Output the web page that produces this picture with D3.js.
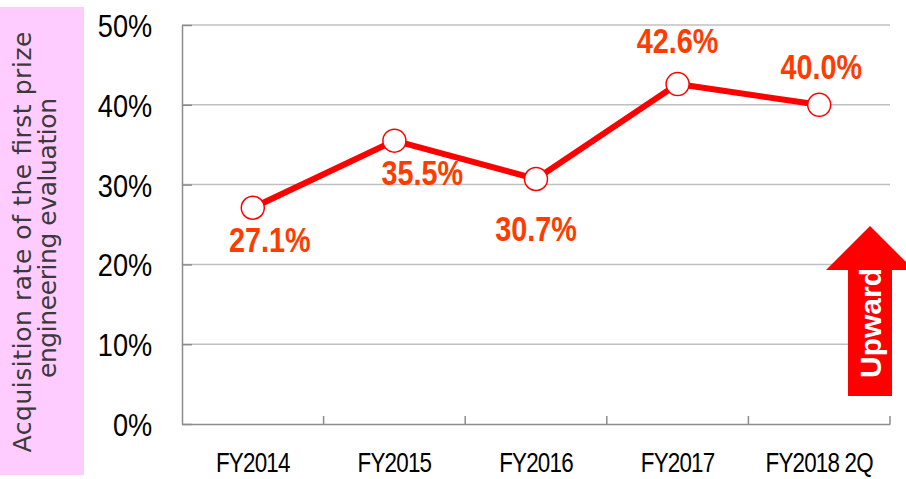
<!DOCTYPE html>
<html>
<head>
<meta charset="utf-8">
<script src="https://cdn.jsdelivr.net/npm/d3@7"></script>
<style>
  body { margin: 0; background: #fff; }
  svg { display: block; font-family: "Liberation Sans", Arial, sans-serif; }
</style>
</head>
<body>
<svg id="chart" width="906" height="479"></svg>
<script>
// data
const categories = ["FY2014", "FY2015", "FY2016", "FY2017", "FY2018 2Q"];
const rates = [0.271, 0.355, 0.307, 0.426, 0.400];
const yTicks = [0, 0.1, 0.2, 0.3, 0.4, 0.5];
const titleLines = ["Acquisition rate of the first prize", "engineering evaluation"];
// where each value label sits relative to its point
const labelOffsets = [[17, 31], [28, 31], [0, 49], [0, -44], [2, -39]];

const svg = d3.select("#chart");
const margin = {left: 182, right: 16, top: 25, bottom: 55};
const W = 906, H = 479;

const x = d3.scaleBand().domain(categories).range([margin.left, W - margin.right]);
const y = d3.scaleLinear().domain([0, 0.5]).range([H - margin.bottom, margin.top]);

// pink title box
svg.append("rect")
    .attr("x", 0).attr("y", 7)
    .attr("width", 84).attr("height", 468)
    .attr("fill", "#ffccff");

const title = svg.append("g")
    .attr("transform", "translate(42,241) rotate(-90)")
    .attr("fill", "#3a3a3a")
    .attr("font-family", "'DejaVu Sans', Verdana, sans-serif")
    .attr("font-size", 25)
    .attr("text-anchor", "middle");
title.selectAll("text")
    .data(titleLines)
    .enter().append("text")
    .attr("x", (d, i) => i ? 3 : -1)
    .attr("y", (d, i) => i ? 14 : -11)
    .attr("textLength", (d, i) => i ? 280 : 421)
    .attr("lengthAdjust", "spacing")
    .text(d => d);

// gridlines
svg.append("g")
    .selectAll("line")
    .data(yTicks.slice(1))
    .enter().append("line")
    .attr("x1", margin.left).attr("x2", W - margin.right)
    .attr("y1", d => y(d)).attr("y2", d => y(d))
    .attr("stroke", "#c0c0c0")
    .attr("stroke-width", 1.5);

// y axis
const yAxis = svg.append("g")
    .attr("transform", `translate(${margin.left},0)`)
    .call(d3.axisLeft(y).tickValues(yTicks).tickFormat(d3.format(".0%"))
        .tickSizeInner(-10).tickSizeOuter(0).tickPadding(0));
yAxis.select(".domain").attr("stroke", "#8c8c8c").attr("stroke-width", 1.5);
yAxis.selectAll(".tick line").attr("stroke", "#8c8c8c").attr("stroke-width", 1.5);
yAxis.selectAll(".tick text")
    .attr("x", -35)
    .attr("dy", "0.36em")
    .attr("font-size", 32)
    .attr("fill", "#000")
    .attr("transform", "scale(0.85,1)");

// x axis
const xAxis = svg.append("g")
    .attr("transform", `translate(0,${y(0)})`)
    .call(d3.axisBottom(x).tickSize(0).tickPadding(0));
xAxis.select(".domain").attr("stroke", "#8c8c8c").attr("stroke-width", 1.5);
xAxis.selectAll(".tick text")
    .attr("y", 48)
    .attr("dy", 0)
    .attr("font-size", 28)
    .attr("fill", "#000")
    .attr("letter-spacing", -1)
    .attr("transform", "scale(0.8,1)");

// tick marks at category boundaries
xAxis.append("g")
    .selectAll("line")
    .data(categories.slice(1).map(c => x(c)).concat([x.range()[1]]))
    .enter().append("line")
    .attr("x1", d => d).attr("x2", d => d)
    .attr("y1", 0).attr("y2", -8)
    .attr("stroke", "#8c8c8c")
    .attr("stroke-width", 1.5);

const cx = (d, i) => x(categories[i]) + x.bandwidth() / 2;

// line
svg.append("path")
    .datum(rates)
    .attr("fill", "none")
    .attr("stroke", "#ff0000")
    .attr("stroke-width", 6)
    .attr("stroke-linejoin", "round")
    .attr("d", d3.line().x(cx).y(d => y(d)));

// markers
svg.append("g")
    .selectAll("circle")
    .data(rates)
    .enter().append("circle")
    .attr("cx", cx)
    .attr("cy", d => y(d))
    .attr("r", 11.5)
    .attr("fill", "#fff")
    .attr("stroke", "#ff0000")
    .attr("stroke-width", 1.5);

// value labels
svg.append("g")
    .selectAll("text")
    .data(rates)
    .enter().append("text")
    .attr("transform", (d, i) => `translate(${cx(d, i) + labelOffsets[i][0]},${y(d) + labelOffsets[i][1]}) scale(0.8,1)`)
    .attr("text-anchor", "middle")
    .attr("dy", "0.36em")
    .attr("font-size", 36)
    .attr("font-weight", "bold")
    .attr("fill", "#ff3c00")
    .text(d => d3.format(".1%")(d));

// upward arrow
svg.append("path")
    .attr("d", "M848,396 L848,270 L826,270 L870,226 L914,270 L892,270 L892,396 Z")
    .attr("fill", "#ff0000");
svg.append("text")
    .attr("transform", "translate(870,323) rotate(-90)")
    .attr("text-anchor", "middle")
    .attr("dy", "0.36em")
    .attr("font-size", 30)
    .attr("font-weight", "bold")
    .attr("fill", "#fff")
    .text("Upward");
</script>
</body>
</html>
